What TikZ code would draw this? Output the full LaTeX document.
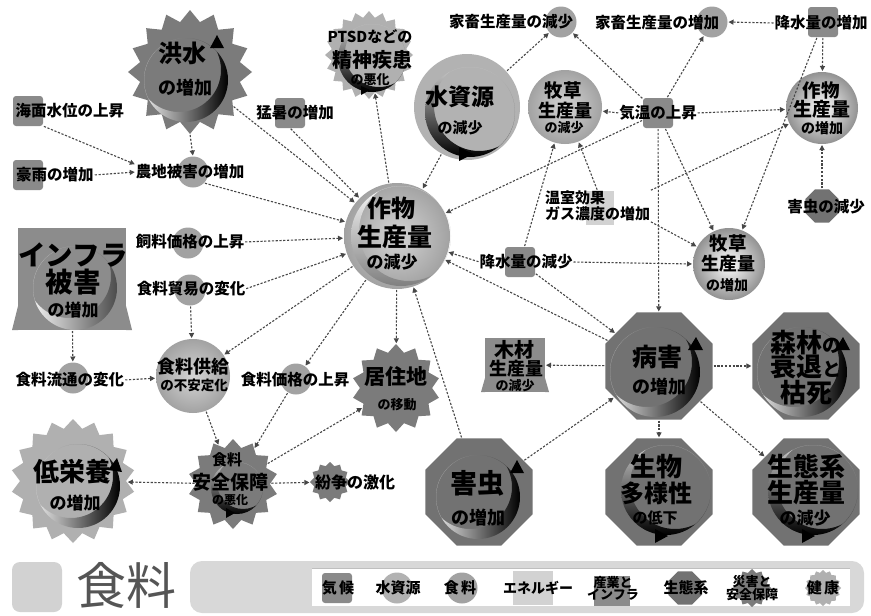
\documentclass[tikz,border=0pt]{standalone}
\usepackage{fontspec}
\setmainfont{Noto Sans CJK JP}
\usetikzlibrary{shapes.geometric,arrows.meta}
\definecolor{climc}{HTML}{8A8A8A}
\definecolor{watc}{HTML}{B2B2B2}
\definecolor{foodc}{HTML}{A2A2A2}
\definecolor{disc}{HTML}{7B7B7B}
\definecolor{hltc}{HTML}{B0B0B0}
\definecolor{ecoc}{HTML}{727272}
\definecolor{infc}{HTML}{8C8C8C}
\definecolor{enec}{HTML}{D2D2D2}
\definecolor{legc}{HTML}{D8D8D8}
\definecolor{bigtxt}{HTML}{555555}
\newcommand\tx[2]{\fontsize{#1}{#1}\selectfont #2}
\newcommand\moon[6]{%
  \begin{scope}
    \clip (#1,#2) circle (#3);
    \shade[#6, even odd rule] (#1,#2) circle (#3) ({#1+#4},{#2+#5}) circle (#3);
  \end{scope}}
\tikzset{
  every node/.style={inner sep=0pt, outer sep=0pt},
  conn/.style={draw=black!72, line width=1.1pt, dash pattern=on 2.2pt off 1.6pt,
    -{Triangle[length=5pt,width=5pt]}, shorten >=1pt, shorten <=1pt},
  climsq/.style={rectangle, rounded corners=3pt, fill=climc, minimum size=30pt},
  foodm/.style={circle, fill=foodc, minimum size=31pt},
  foodbig/.style={circle, shading=radial, inner color=foodc!45!white, outer color=foodc},
  foodlight/.style={circle, shading=radial, inner color=white, outer color=foodc!90!black},
  watbig/.style={circle, fill=watc},
  disst/.style={star, star point ratio=1.22, fill=disc},
  hltst/.style={star, star point ratio=1.17, fill=hltc},
  eco/.style={regular polygon, regular polygon sides=8, fill=ecoc},
  infr/.style={rectangle, fill=infc},
  ener/.style={rectangle, fill=enec},
  lbl/.style={font=\bfseries},
  legtx/.style={font=\bfseries, align=center}
}
\begin{document}
\begin{tikzpicture}[x=1pt,y=-1pt]
\useasboundingbox (0,0) rectangle (871,616);
\fill[white] (0,0) rectangle (871,616);

% ---------- big shapes ----------
\node[disst, star points=16, minimum size=124pt] (kozui) at (190,72) {};
\node[hltst, star points=20, minimum size=88pt] (ptsd) at (369,55) {};
\node[watbig, minimum size=106pt] (mizu) at (467,107) {};
\node[foodbig, minimum size=106pt] (sakuC) at (397,236) {};
\node[foodbig, minimum size=74pt] (bokusoGen) at (565,107) {};
\node[foodlight, minimum size=72pt] (sakuZo) at (822,108) {};
\node[foodlight, minimum size=72pt] (bokusoZo) at (729,264) {};
\node[foodbig, minimum size=74pt] (kyokyu) at (193,376) {};
\node[infr, minimum width=108pt, minimum height=102pt] (infra) at (72,279) {};
\fill[infc] (infra.south west) -- ++(-6,0) -- ++(6,-24) -- cycle;
\fill[infc] (infra.south east) -- ++(6,0) -- ++(-6,-24) -- cycle;
\node[infr, minimum width=60pt, minimum height=54pt] (mokuzai) at (515,365) {};
\fill[infc] (mokuzai.south west) -- ++(-4,0) -- ++(4,-14) -- cycle;
\fill[infc] (mokuzai.south east) -- ++(4,0) -- ++(-4,-14) -- cycle;
\node[disst, star points=14, minimum size=88pt] (jukyo) at (396,388) {};
\node[disst, star points=14, minimum size=90pt] (anzen) at (233,484) {};
\node[hltst, star points=18, minimum size=124pt] (teieiyo) at (73,481) {};
\node[eco, minimum size=116pt] (byogai) at (659,366) {};
\node[eco, minimum size=116pt] (shinrin) at (806,366) {};
\node[eco, minimum size=116pt] (gaichu) at (479,492) {};
\node[eco, minimum size=116pt] (seibutsu) at (659,492) {};
\node[eco, minimum size=116pt] (seitaikei) at (806,492) {};

% ---------- crescents ----------
\moon{186}{80}{42}{-7}{-10}{left color=white, right color=black}
\fill (210,48) -- (217,35) -- (224,48) -- cycle;
\moon{78}{486}{42}{-7}{-10}{left color=white, right color=black}
\fill (108,470) -- (117,458) -- (122,472) -- cycle;
\moon{655}{372}{45}{-8}{-10}{left color=white, right color=black}
\fill (688,350) -- (696,337) -- (703,350) -- cycle;
\moon{802}{372}{45}{-8}{-10}{left color=white, right color=black}
\fill (835,350) -- (843,337) -- (850,350) -- cycle;
\moon{478}{497}{42}{-8}{-10}{left color=white, right color=black}
\fill (510,473) -- (517,460) -- (524,473) -- cycle;
\begin{scope}
\clip (infra.north west) rectangle (infra.south east);
\moon{75}{288}{42}{-6}{-12}{left color=white, right color=black!70}
\end{scope}
\moon{470}{112}{45}{9}{-6}{top color=white!70!gray, bottom color=black}
\fill (459,147) -- (473,154) -- (459,161) -- cycle;
\moon{666}{490}{45}{9}{-6}{top color=white!70!gray, bottom color=black}
\fill (655,529) -- (668,536) -- (655,543) -- cycle;
\moon{813}{490}{45}{9}{-6}{top color=white!70!gray, bottom color=black}
\fill (802,529) -- (815,536) -- (802,543) -- cycle;
\moon{237}{488}{26}{6}{-5}{top color=white!70!gray, bottom color=black}
\fill (226,508) -- (235,513) -- (226,518) -- cycle;
\moon{372}{58}{34}{7}{-5}{top color=white!70!gray, bottom color=black}
\fill (361,86) -- (370,90) -- (361,95) -- cycle;
\moon{401}{236}{50}{8}{-5}{top color=white, bottom color=gray}

% ---------- small markers ----------
\node[climsq] (kaimenM) at (28,111) {};
\node[climsq] (gouM) at (28,175) {};
\node[foodm] (nochiM) at (193,172) {};
\node[climsq] (mosoM) at (290,113) {};
\node[foodm] (kachikuGenM) at (561,22) {};
\node[foodm] (kachikuZoM) at (712,22) {};
\node[climsq] (kosuiZoM) at (823,22) {};
\node[climsq] (kionM) at (658,113) {};
\node[eco, minimum size=36pt] (gaichuGenM) at (822,206) {};
\node[ener, minimum width=28pt, minimum height=34pt] (onshitsuM) at (600,208) {};
\node[climsq] (kosuiGenM) at (520,262) {};
\node[foodm] (shiryoM) at (188,243) {};
\node[foodm] (boekiM) at (190,290) {};
\node[foodm] (ryutsuM) at (73,378) {};
\node[foodm] (kakakuM) at (296,379) {};
\node[disst, star points=12, minimum size=40pt] (funsoM) at (330,482) {};

% ---------- small labels ----------
\node[lbl] (kaimenL) at (70,111) {\tx{15.5}{海面水位の上昇}};
\node[lbl] (gouL) at (55,175) {\tx{15.5}{豪雨の増加}};
\node[lbl] (nochiL) at (190,172) {\tx{15.5}{農地被害の増加}};
\node[lbl] (mosoL) at (295,113) {\tx{15.5}{猛暑の増加}};
\node[lbl] (kachikuGenL) at (511,22) {\tx{15.5}{家畜生産量の減少}};
\node[lbl] (kachikuZoL) at (657,23) {\tx{15.5}{家畜生産量の増加}};
\node[lbl] (kosuiZoL) at (821,23) {\tx{15.5}{降水量の増加}};
\node[lbl] (kionL) at (658,113) {\tx{15.5}{気温の上昇}};
\node[lbl] (gaichuGenL) at (826,207) {\tx{15.5}{害虫の減少}};
\node[lbl, align=left, anchor=west] (onshitsuL) at (545,206) {\tx{15}{温室効果}\\[1pt]\tx{15}{ガス濃度の増加}};
\node[lbl] (kosuiGenL) at (526,262) {\tx{15.5}{降水量の減少}};
\node[lbl] (shiryoL) at (190,242) {\tx{15.5}{飼料価格の上昇}};
\node[lbl] (boekiL) at (191,289) {\tx{15.5}{食料貿易の変化}};
\node[lbl] (ryutsuL) at (70,380) {\tx{15.5}{食料流通の変化}};
\node[lbl] (kakakuL) at (295,380) {\tx{15.5}{食料価格の上昇}};
\node[lbl] (funsoL) at (355,482) {\tx{16}{紛争の激化}};

% ---------- big labels ----------
\node[lbl] (kozuiA) at (182,53) {\tx{24}{洪水}};
\node[lbl] (kozuiB) at (185,88) {\tx{18}{の増加}};
\node[lbl] (ptsdA) at (370,37) {\tx{15}{PTSDなどの}};
\node[lbl] (ptsdB) at (372,60) {\tx{20}{精神疾患}};
\node[lbl] (ptsdC) at (370,80) {\tx{13}{の悪化}};
\node[lbl] (mizuA) at (460,97) {\tx{23}{水資源}};
\node[lbl] (mizuB) at (460,128) {\tx{15}{の減少}};
\node[lbl] (sakuCA) at (391,208) {\tx{24}{作物}};
\node[lbl] (sakuCB) at (395,237) {\tx{25}{生産量}};
\node[lbl] (sakuCC) at (392,262) {\tx{17}{の減少}};
\node[lbl] (bokusoGenA) at (563,90) {\tx{18.5}{牧草}};
\node[lbl] (bokusoGenB) at (565,111) {\tx{18}{生産量}};
\node[lbl] (bokusoGenC) at (564,128) {\tx{13}{の減少}};
\node[lbl] (sakuZoA) at (821,90) {\tx{18.5}{作物}};
\node[lbl] (sakuZoB) at (822,109) {\tx{19}{生産量}};
\node[lbl] (sakuZoC) at (822,128) {\tx{14}{の増加}};
\node[lbl] (bokusoZoA) at (728,243) {\tx{18.5}{牧草}};
\node[lbl] (bokusoZoB) at (728,264) {\tx{18}{生産量}};
\node[lbl] (bokusoZoC) at (727,285) {\tx{14}{の増加}};
\node[lbl] (infraA) at (73,255) {\tx{27.5}{インフラ}};
\node[lbl] (infraB) at (73,282) {\tx{27.5}{被害}};
\node[lbl] (infraC) at (73,310) {\tx{17}{の増加}};
\node[lbl] (kyokyuA) at (193,367) {\tx{18}{食料供給}};
\node[lbl] (kyokyuB) at (194,385) {\tx{13.5}{の不安定化}};
\node[lbl] (jukyoA) at (396,377) {\tx{21}{居住地}};
\node[lbl] (jukyoB) at (397,405) {\tx{13}{の移動}};
\node[lbl] (anzenA) at (227,460) {\tx{15}{食料}};
\node[lbl] (anzenB) at (230,482) {\tx{19}{安全保障}};
\node[lbl] (anzenC) at (230,500) {\tx{12}{の悪化}};
\node[lbl] (teieiyoA) at (73,472) {\tx{26}{低栄養}};
\node[lbl] (teieiyoB) at (75,503) {\tx{17}{の増加}};
\node[lbl] (byogaiA) at (657,357) {\tx{25}{病害}};
\node[lbl] (byogaiB) at (659,387) {\tx{18}{の増加}};
\node[lbl] (shinrinA) at (806,343) {\tx{26}{森林}\tx{19}{の}};
\node[lbl] (shinrinB) at (806,367) {\tx{26}{衰退}\tx{19}{と}};
\node[lbl] (shinrinC) at (806,393) {\tx{26}{枯死}};
\node[lbl] (gaichuA) at (477,483) {\tx{27}{害虫}};
\node[lbl] (gaichuB) at (478,518) {\tx{18}{の増加}};
\node[lbl] (seibutsuA) at (656,467) {\tx{26}{生物}};
\node[lbl] (seibutsuB) at (656,493) {\tx{24}{多様性}};
\node[lbl] (seibutsuC) at (655,518) {\tx{15}{の低下}};
\node[lbl] (seitaikeiA) at (806,467) {\tx{26}{生態系}};
\node[lbl] (seitaikeiB) at (806,493) {\tx{26}{生産量}};
\node[lbl] (seitaikeiC) at (805,518) {\tx{17}{の減少}};
\node[lbl] (mokuzaiA) at (514,350) {\tx{20}{木材}};
\node[lbl] (mokuzaiB) at (516,369) {\tx{18}{生産量}};
\node[lbl] (mokuzaiC) at (515,386) {\tx{13}{の減少}};

% ---------- connectors ----------
\draw[conn] (kaimenM.south east) -- (nochiL.north west);
\draw[conn] (gouL.east) -- (nochiL.west);
\draw[conn] (kozui.south) -- (nochiM.north);
\draw[conn] (kozui) -- (sakuC);
\draw[conn] (nochiM.south east) -- (sakuC);
\draw[conn] (mosoM.south) -- (sakuC);
\draw[conn] (sakuC) -- (ptsd);
\draw[conn] (mizu) -- (sakuC);
\draw[conn] (mizu) -- (kachikuGenM);
\draw[conn] (kionM) -- (kachikuGenM);
\draw[conn] (kionM) -- (kachikuZoM);
\draw[conn] (kosuiZoL.west) -- (kachikuZoM.east);
\draw[conn] (kosuiZoM) -- (sakuZo);
\draw[conn] (kionL.east) -- (sakuZo);
\draw[conn] (kionL.west) -- (bokusoGen);
\draw[conn] (gaichuGenM) -- (sakuZo);
\draw[conn] (onshitsuL.north east) -- (sakuZo);
\draw[conn] (kionM) -- (sakuC);
\draw[conn] (kionM) -- (bokusoZo);
\draw[conn] (kosuiZoM) -- (bokusoZo);
\draw[conn] (kionM) -- (byogai);
\draw[conn] (onshitsuL.south east) -- (bokusoZo);
\draw[conn] (kosuiGenL.east) -- (bokusoZo.west);
\draw[conn] (kosuiGenL.west) -- (sakuC);
\draw[conn] (kosuiGenM) -- (bokusoGen);
\draw[conn] (onshitsuL.north) -- (bokusoGen);
\draw[conn] (kosuiGenM) -- (byogai);
\draw[conn] (byogai) -- (sakuC);
\draw[conn] (byogai) -- (mokuzai);
\draw[conn] (byogai) -- (shinrin);
\draw[conn] (byogai) -- (seibutsu);
\draw[conn] (byogai) -- (seitaikei);
\draw[conn] (gaichu) -- (byogai);
\draw[conn] (gaichu) -- (sakuC);
\draw[conn] (sakuC) -- (jukyo);
\draw[conn] (sakuC) -- (kakakuM);
\draw[conn] (sakuC) -- (kyokyu);
\draw[conn] (shiryoL.east) -- (sakuC);
\draw[conn] (boekiL.east) -- (sakuC);
\draw[conn] (boekiM) -- (kyokyu);
\draw[conn] (infra) -- (ryutsuM);
\draw[conn] (ryutsuL.east) -- (kyokyu);
\draw[conn] (kyokyu) -- (anzen);
\draw[conn] (kakakuM) -- (anzen);
\draw[conn] (anzen) -- (jukyo);
\draw[conn] (anzen) -- (teieiyo);
\draw[conn] (anzen) -- (funsoM);

% ---------- legend ----------
\node[rectangle, rounded corners=8pt, fill=enec, minimum size=50pt] (legsq) at (37,587) {};
\node[font=\mdseries, text=bigtxt] (legtitle) at (126,585) {\fontsize{50}{50}\selectfont 食料};
\fill[legc, rounded corners=12pt] (190,561) rectangle (864,613);
\fill[white] (312,568) rectangle (850,606);
\draw[black!25, line width=0.8pt] (312,568) -- (850,568);
\node[climsq] (lg1) at (337,588) {};
\node[legtx] (lg1t) at (338,588) {\tx{15}{気\,候}};
\node[foodm, fill=watc] (lg2) at (397,588) {};
\node[legtx] (lg2t) at (398,588) {\tx{15}{水資源}};
\node[foodm] (lg3) at (462,588) {};
\node[legtx] (lg3t) at (460,588) {\tx{15}{食\,料}};
\node[ener, minimum width=40pt, minimum height=34pt] (lg4) at (533,588) {};
\node[legtx] (lg4t) at (538,588) {\tx{14}{エネルギー}};
\node[infr, minimum width=36pt, minimum height=30pt] (lg5) at (612,591) {};
\node[legtx] (lg5t) at (613,588) {\tx{13}{産業と}\\\tx{13}{インフラ}};
\node[eco, minimum size=36pt] (lg6) at (685,588) {};
\node[legtx] (lg6t) at (686,588) {\tx{15}{生態系}};
\node[disst, star points=12, minimum size=38pt] (lg7) at (752,588) {};
\node[legtx] (lg7t) at (752,588) {\tx{13}{災害と}\\\tx{13}{安全保障}};
\node[hltst, star points=16, minimum size=36pt] (lg8) at (823,588) {};
\node[legtx] (lg8t) at (823,588) {\tx{15}{健\,康}};
\end{tikzpicture}
\end{document}
